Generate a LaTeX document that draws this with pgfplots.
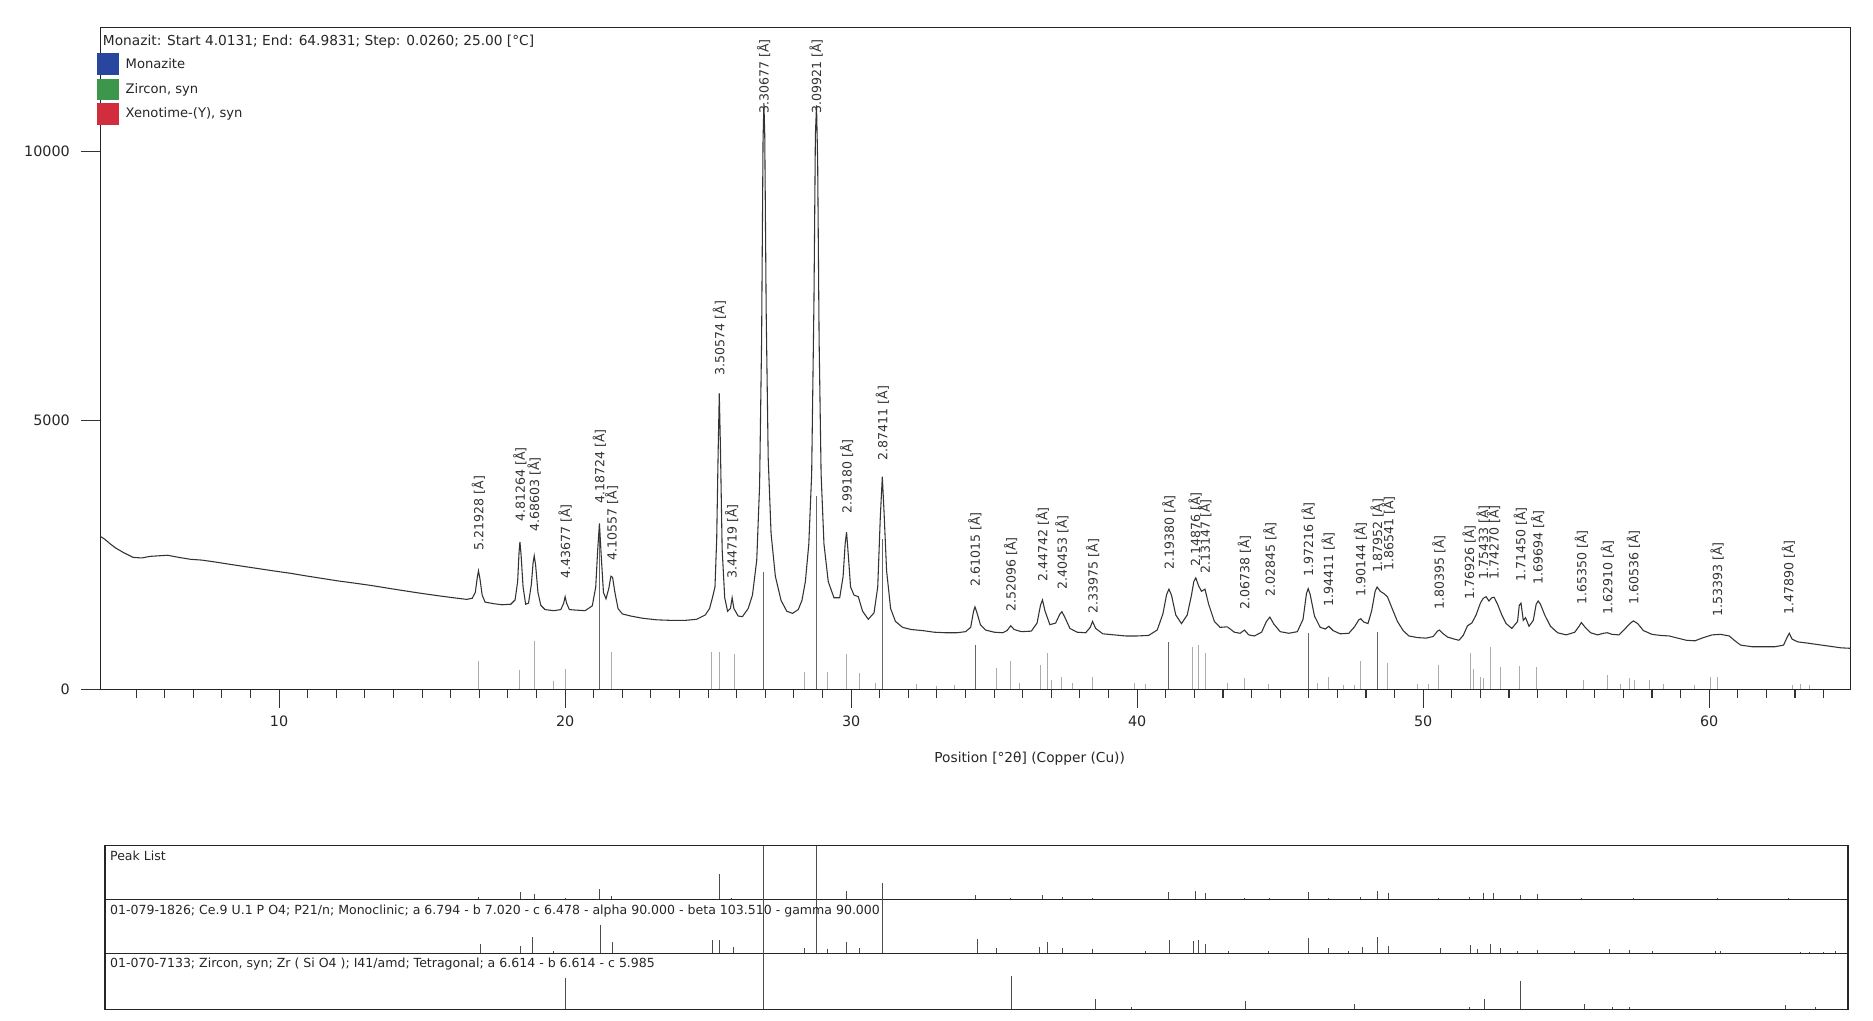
\documentclass[border=0pt]{standalone}
\usepackage{fontspec}
\setmainfont{DejaVu Sans}
\usepackage{pgfplots}
\pgfplotsset{compat=1.18}
\definecolor{monblue}{RGB}{40,70,160}
\definecolor{zirgreen}{RGB}{60,150,75}
\definecolor{xenred}{RGB}{210,45,60}
\newcommand{\lab}[3]{\node[rotate=90,anchor=west,inner sep=0pt,font=\fontsize{10.5}{12}\selectfont,text=black!80] at (axis cs:#1,#2) {#3};}
\begin{document}
\begin{tikzpicture}[x=1pt,y=1pt]
\path[use as bounding box] (0,0) rectangle (1568,854);
\begin{axis}[at={(84pt,277pt)}, anchor=south west, width=1465.4pt, height=554pt, scale only axis,
  xmin=3.75, xmax=64.95, ymin=0, ymax=12300, clip=false,
  axis line style={line width=1.1pt, black!85},
  xtick={10,20,...,60}, minor xtick={5,6,...,64}, ytick={0,5000,10000},
  xtick pos=bottom, ytick pos=left, tick align=outside,
  major tick length=16pt, minor tick length=7pt,
  tick style={line width=0.9pt, black!80},
  ticklabel style={font=\fontsize{12}{14}\selectfont, text=black!85},
  xticklabel style={yshift=-3pt}, yticklabel style={xshift=-6pt},
  /pgf/number format/assume math mode=true, /pgf/number format/1000 sep={}, scaled y ticks=false]
% reference sticks
\addplot[ycomb, gray!65, line width=0.8pt, no marks] coordinates {
(16.97,530) (18.42,360) (18.92,890) (19.6,150) (20.0,370) (21.63,690)
(25.12,700) (25.39,700) (25.91,650) (28.38,320) (29.17,320) (29.84,650) (30.28,300) (30.85,110)
(32.3,90) (33.0,60) (33.6,80) (35.08,390) (35.58,530) (35.9,110) (36.62,450) (36.85,670) (37.0,170)
(37.37,235) (37.75,110) (38.44,235) (39.9,110) (40.3,100) (41.95,790) (42.15,820) (42.40,670)
(43.15,110) (43.75,205) (44.6,100) (46.3,110) (46.68,235) (47.2,80) (47.6,80) (47.80,530) (48.75,480)
(49.8,100) (50.2,100) (50.55,450) (51.65,670) (51.75,380) (52.0,235) (52.1,200) (52.35,790) (52.7,420)
(53.35,440) (53.95,420) (55.6,170) (56.45,266) (56.9,100) (57.2,200) (57.4,180) (57.9,170) (58.4,100)
(59.5,80) (60.05,235) (60.3,235) (62.9,80) (63.2,100) (63.5,80)};
\addplot[ycomb, black!60, line width=0.8pt, no marks] coordinates {
(21.20,3000) (26.94,2180) (28.78,3600) (31.09,2800) (34.33,820) (41.11,870) (45.98,1040) (48.39,1070)};
% measured pattern
\addplot[black!80, line width=0.9pt, no marks] coordinates {
(3.75,2840) (3.9,2790) (4.1,2700) (4.3,2620) (4.56,2540) (4.9,2450) (5.2,2440) (5.5,2470) (5.8,2480)
(6.1,2490) (6.5,2450) (6.9,2415) (7.3,2400) (7.7,2370) (8.3,2320) (8.8,2280) (9.3,2240) (9.8,2200)
(10.4,2155) (10.9,2110) (11.5,2060) (12.1,2010) (12.6,1975) (13.2,1930) (13.9,1870) (14.5,1820)
(15.0,1780) (15.6,1735) (16.1,1700) (16.56,1670) (16.75,1690) (16.86,1800) (16.93,2080) (16.97,2200)
(17.02,2060) (17.1,1750) (17.2,1620) (17.5,1590) (17.8,1570) (18.1,1580) (18.25,1660) (18.34,2000)
(18.39,2550) (18.42,2740) (18.46,2500) (18.53,1900) (18.62,1580) (18.72,1600) (18.82,1950) (18.88,2350)
(18.92,2480) (18.97,2300) (19.05,1800) (19.15,1560) (19.3,1480) (19.6,1460) (19.85,1480) (19.95,1600)
(20.0,1720) (20.05,1600) (20.15,1480) (20.4,1470) (20.7,1460) (20.95,1550) (21.07,1900) (21.14,2600)
(21.2,3080) (21.26,2500) (21.34,1800) (21.43,1680) (21.53,1880) (21.6,2100) (21.66,2080) (21.74,1800)
(21.85,1500) (22.0,1400) (22.3,1360) (22.7,1320) (23.2,1290) (23.7,1280) (24.2,1280) (24.6,1300)
(24.9,1380) (25.05,1500) (25.15,1700) (25.24,1900) (25.3,2800) (25.35,4400) (25.39,5500) (25.43,4500)
(25.49,2600) (25.58,1700) (25.68,1450) (25.78,1500) (25.84,1700) (25.9,1500) (26.05,1360) (26.2,1350)
(26.4,1500) (26.55,1750) (26.7,2400) (26.8,3800) (26.87,6500) (26.92,10200) (26.95,10900) (26.98,10300)
(27.03,7000) (27.1,4300) (27.2,2900) (27.35,2100) (27.55,1650) (27.75,1450) (27.95,1410) (28.15,1480)
(28.28,1650) (28.4,2000) (28.52,2700) (28.62,4000) (28.7,7200) (28.75,10300) (28.79,10850) (28.83,9800)
(28.88,6500) (28.95,4000) (29.05,2700) (29.2,2000) (29.4,1700) (29.6,1700) (29.72,2100) (29.79,2700)
(29.84,2920) (29.9,2500) (29.98,1900) (30.1,1750) (30.25,1720) (30.4,1450) (30.6,1300) (30.8,1420)
(30.93,1900) (31.02,3200) (31.09,3950) (31.15,3300) (31.24,2200) (31.38,1500) (31.55,1260) (31.8,1150)
(32.1,1110) (32.5,1090) (32.9,1060) (33.3,1050) (33.7,1050) (34.0,1070) (34.18,1150) (34.28,1450)
(34.33,1530) (34.4,1420) (34.52,1200) (34.7,1100) (35.0,1060) (35.3,1050) (35.45,1090) (35.58,1180)
(35.7,1110) (35.95,1070) (36.3,1080) (36.5,1230) (36.62,1560) (36.69,1660) (36.78,1450) (36.95,1200)
(37.15,1230) (37.3,1400) (37.37,1440) (37.46,1350) (37.65,1130) (37.9,1060) (38.2,1050) (38.36,1150)
(38.44,1260) (38.55,1130) (38.8,1030) (39.2,1010) (39.6,990) (40.0,990) (40.4,1000) (40.7,1100)
(40.9,1400) (41.03,1760) (41.11,1860) (41.2,1750) (41.35,1380) (41.55,1220) (41.75,1380) (41.9,1750)
(41.98,2000) (42.05,2070) (42.15,1920) (42.25,1820) (42.37,1860) (42.5,1580) (42.7,1260) (42.9,1150)
(43.15,1160) (43.4,1060) (43.6,1040) (43.75,1100) (43.9,1010) (44.1,990) (44.35,1060) (44.52,1260)
(44.64,1340) (44.78,1210) (45.0,1070) (45.3,1040) (45.6,1070) (45.8,1300) (45.92,1780) (45.98,1870)
(46.05,1760) (46.2,1360) (46.4,1150) (46.58,1120) (46.7,1170) (46.85,1090) (47.1,1030) (47.4,1040)
(47.6,1160) (47.75,1290) (47.82,1310) (47.92,1250) (48.07,1220) (48.2,1460) (48.32,1820) (48.39,1900)
(48.5,1820) (48.62,1780) (48.75,1720) (48.9,1520) (49.1,1260) (49.3,1090) (49.5,990) (49.8,960)
(50.1,950) (50.35,980) (50.5,1080) (50.57,1100) (50.68,1040) (50.85,970) (51.1,930) (51.25,910)
(51.4,1000) (51.55,1180) (51.7,1230) (51.85,1380) (52.0,1600) (52.1,1690) (52.2,1720) (52.3,1640)
(52.4,1700) (52.48,1710) (52.6,1580) (52.75,1380) (52.9,1220) (53.1,1130) (53.3,1260) (53.36,1560)
(53.42,1600) (53.5,1280) (53.58,1330) (53.7,1170) (53.85,1280) (53.95,1580) (54.02,1640) (54.1,1580)
(54.25,1380) (54.45,1170) (54.7,1050) (55.0,1010) (55.3,1060) (55.45,1170) (55.53,1240) (55.65,1160)
(55.85,1050) (56.1,1010) (56.3,1040) (56.44,1050) (56.6,1020) (56.85,1010) (57.05,1120) (57.25,1230)
(57.35,1270) (57.5,1220) (57.7,1090) (58.0,1020) (58.3,1000) (58.6,990) (58.9,950) (59.2,910)
(59.5,900) (59.8,960) (60.1,1010) (60.4,1020) (60.7,990) (60.9,900) (61.1,820) (61.5,790) (61.9,790)
(62.3,790) (62.6,820) (62.72,960) (62.8,1040) (62.9,930) (63.1,880) (63.4,860) (63.8,830) (64.2,800)
(64.6,770) (64.95,760)};
\lab{16.97}{2583}{5.21928 [Å]}
\lab{18.42}{3110}{4.81264 [Å]}
\lab{18.92}{2924}{4.68603 [Å]}
\lab{20.00}{2057}{4.43677 [Å]}
\lab{21.20}{3450}{4.18724 [Å]}
\lab{21.63}{2397}{4.10557 [Å]}
\lab{25.39}{5836}{3.50574 [Å]}
\lab{25.82}{2057}{3.44719 [Å]}
\lab{26.94}{10699}{3.30677 [Å]}
\lab{28.78}{10699}{3.09921 [Å]}
\lab{29.84}{3265}{2.99180 [Å]}
\lab{31.09}{4256}{2.87411 [Å]}
\lab{34.33}{1908}{2.61015 [Å]}
\lab{35.58}{1443}{2.52096 [Å]}
\lab{36.69}{2000}{2.44742 [Å]}
\lab{37.37}{1846}{2.40453 [Å]}
\lab{38.44}{1412}{2.33975 [Å]}
\lab{41.11}{2218}{2.19380 [Å]}
\lab{42.03}{2280}{2.14876 [Å]}
\lab{42.37}{2150}{2.13147 [Å]}
\lab{43.75}{1474}{2.06738 [Å]}
\lab{44.64}{1722}{2.02845 [Å]}
\lab{45.98}{2094}{1.97216 [Å]}
\lab{46.68}{1536}{1.94411 [Å]}
\lab{47.80}{1722}{1.90144 [Å]}
\lab{48.39}{2156}{1.87952 [Å]}
\lab{48.78}{2200}{1.86541 [Å]}
\lab{50.55}{1474}{1.80395 [Å]}
\lab{51.61}{1660}{1.76926 [Å]}
\lab{52.10}{2032}{1.75433 [Å]}
\lab{52.46}{2032}{1.74270 [Å]}
\lab{53.40}{2000}{1.71450 [Å]}
\lab{54.00}{1939}{1.69694 [Å]}
\lab{55.53}{1567}{1.65350 [Å]}
\lab{56.44}{1384}{1.62910 [Å]}
\lab{57.35}{1567}{1.60536 [Å]}
\lab{60.28}{1350}{1.53393 [Å]}
\lab{62.77}{1381}{1.47890 [Å]}
\end{axis}
% title and legend
\node[anchor=west, inner sep=0pt, font=\fontsize{11.5}{13}\selectfont, text=black!85] at (86,819) {Monazit: Start 4.0131; End: 64.9831; Step: 0.0260; 25.00 [°C]};
\fill[monblue] (81,791) rectangle (100,810);
\node[anchor=west, inner sep=0pt, font=\fontsize{11}{13}\selectfont, text=black!85] at (105,800.5) {Monazite};
\fill[zirgreen] (81,770) rectangle (100,788);
\node[anchor=west, inner sep=0pt, font=\fontsize{11}{13}\selectfont, text=black!85] at (105,779) {Zircon, syn};
\fill[xenred] (81,749) rectangle (100,768);
\node[anchor=west, inner sep=0pt, font=\fontsize{11}{13}\selectfont, text=black!85] at (105,758.5) {Xenotime-(Y), syn};
\node[font=\fontsize{11.5}{13}\selectfont, text=black!85] at (862,219) {Position [°2θ] (Copper (Cu))};
% peak list panel
\begin{axis}[at={(88pt,101pt)}, anchor=south west, width=1459pt, height=45pt, scale only axis,
  xmin=3.917, xmax=64.85, ymin=0, ymax=100, axis line style={line width=1.1pt, black!85},
  xtick=\empty, ytick=\empty]
\addplot[ycomb, black!70, line width=0.7pt, no marks] coordinates {
(16.97,5) (18.42,13) (18.92,11) (20.00,3) (21.20,20) (21.63,7) (25.39,47) (25.82,3) (26.94,100) (28.78,100)
(29.84,16) (31.09,31) (34.33,9) (35.58,2) (36.69,9) (37.37,4) (38.44,3) (41.11,14) (42.03,16) (42.37,12)
(43.75,2) (44.64,3) (45.98,14) (46.68,2) (47.80,4) (48.39,16) (48.78,12) (50.55,2) (51.61,5) (52.1,12)
(52.46,12) (53.40,8) (54.00,10) (55.53,3) (56.44,1.5) (57.35,3) (60.28,2) (62.77,2)};
\end{axis}
\begin{axis}[at={(88pt,56pt)}, anchor=south west, width=1459pt, height=45pt, scale only axis,
  xmin=3.917, xmax=64.85, ymin=0, ymax=100, axis line style={line width=1.1pt, black!85},
  xtick=\empty, ytick=\empty]
\addplot[ycomb, black!70, line width=0.7pt, no marks] coordinates {
(17.03,17) (18.45,14) (18.87,31) (19.6,5) (21.22,52) (21.66,20) (25.15,24) (25.39,24) (25.9,12) (26.94,100)
(28.38,10) (28.78,100) (29.17,8) (29.84,20) (30.28,10) (31.09,100) (34.40,27) (35.08,10) (36.6,12) (36.85,20)
(37.39,10) (38.44,8) (40.3,4) (41.14,25) (41.98,22) (42.15,24) (42.40,18) (43.2,4) (44.6,4) (45.98,28)
(46.68,10) (47.4,4) (47.87,12) (48.39,30) (48.8,14) (50.6,10) (51.65,15) (51.9,8) (52.35,18) (52.7,10)
(53.3,5) (54.0,6) (55.3,4) (56.5,8) (57.2,6) (58.0,4) (60.2,5) (60.4,5) (63.2,3) (63.5,3) (64.0,3) (64.4,5)};
\end{axis}
\begin{axis}[at={(88pt,9pt)}, anchor=south west, width=1459pt, height=47pt, scale only axis,
  xmin=3.917, xmax=64.85, ymin=0, ymax=100, axis line style={line width=1.1pt, black!85},
  xtick=\empty, ytick=\empty]
\addplot[ycomb, black!70, line width=0.7pt, no marks] coordinates {
(20.0,55) (26.94,100) (35.62,60) (38.55,18) (39.8,4) (43.8,15) (47.6,10) (51.6,5) (52.14,18) (53.4,50)
(55.65,10) (56.6,4) (57.2,4) (62.66,8) (63.7,4)};
\end{axis}
\node[anchor=north west, inner sep=0pt, font=\fontsize{10.5}{12}\selectfont, text=black!85] at (92,142) {Peak List};
\node[anchor=north west, inner sep=0pt, font=\fontsize{10.5}{12}\selectfont, text=black!85] at (92,97) {01-079-1826; Ce.9 U.1 P O4; P21/n; Monoclinic; a 6.794 - b 7.020 - c 6.478 - alpha 90.000 - beta 103.510 - gamma 90.000};
\node[anchor=north west, inner sep=0pt, font=\fontsize{10.5}{12}\selectfont, text=black!85] at (92,52) {01-070-7133; Zircon, syn; Zr ( Si O4 ); I41/amd; Tetragonal; a 6.614 - b 6.614 - c 5.985};
\end{tikzpicture}
\end{document}
